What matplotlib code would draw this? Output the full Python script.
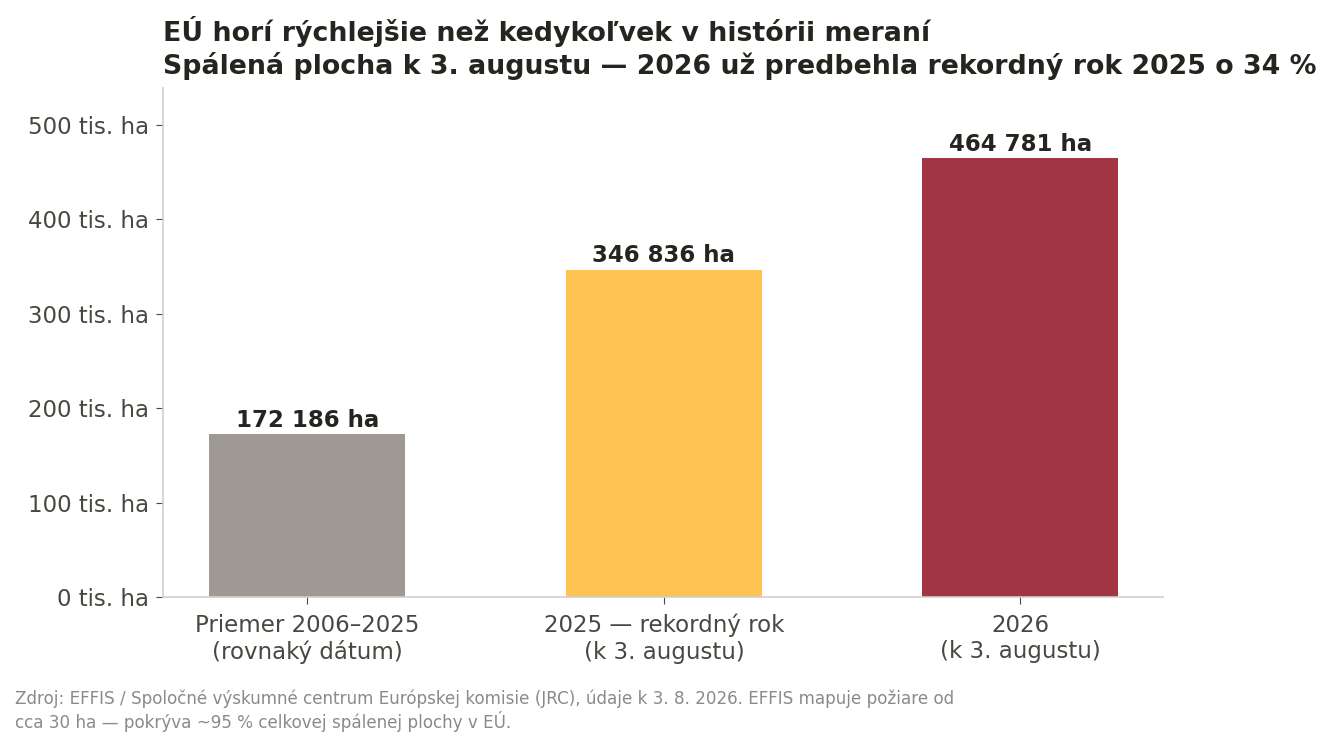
import matplotlib
matplotlib.use('Agg')
import matplotlib.pyplot as plt

plt.rcParams['font.family'] = ['DejaVu Sans']

# údaje
categories = ['Priemer 2006–2025\n(rovnaký dátum)', '2025 — rekordný rok\n(k 3. augustu)', '2026\n(k 3. augustu)']
values = [172186, 346836, 464781]
colors = ['#9e9a93', '#fdc453', '#a13543']
yticks = [0, 100000, 200000, 300000, 400000, 500000]
ytick_labels = ['0 tis. ha', '100 tis. ha', '200 tis. ha', '300 tis. ha', '400 tis. ha', '500 tis. ha']

title = 'EÚ horí rýchlejšie než kedykoľvek v histórii meraní\nSpálená plocha k 3. augustu — 2026 už predbehla rekordný rok 2025 o 34 %'
source = ('Zdroj: EFFIS / Spoločné výskumné centrum Európskej komisie (JRC), údaje k 3. 8. 2026. EFFIS mapuje požiare od\n'
          'cca 30 ha — pokrýva ~95 % celkovej spálenej plochy v EÚ.')

text_dark = '#25241e'
text_mid = '#4a4740'
spine_col = '#d3cfc8'

fig = plt.figure(figsize=(13.3, 7.48), dpi=100)
ax = fig.add_axes([163 / 1330, 1 - 597 / 748, 1000 / 1330, (597 - 88) / 748])

x = range(len(categories))
bars = ax.bar(x, values, width=0.55, color=colors)

for rect, v in zip(bars, values):
    label = f'{v:,} ha'.replace(',', ' ')
    ax.annotate(label, xy=(rect.get_x() + rect.get_width() / 2, v),
                xytext=(0, 1.5), textcoords='offset points',
                ha='center', va='bottom', fontsize=16.5, fontweight='bold', color=text_dark)

ax.set_xlim(-0.405, 2.4)
ax.set_ylim(0, max(values) * 1.16)
ax.set_xticks(list(x))
ax.set_xticklabels(categories, fontsize=16.5, color=text_mid)
ax.set_yticks(yticks)
ax.set_yticklabels(ytick_labels, fontsize=16.5, color=text_mid)
ax.tick_params(axis='both', colors=text_mid, length=5)
ax.tick_params(axis='x', pad=7)
ax.tick_params(axis='y', pad=5)

for s in ['top', 'right']:
    ax.spines[s].set_visible(False)
for s in ['left', 'bottom']:
    ax.spines[s].set_color(spine_col)
    ax.spines[s].set_linewidth(1.2)

fig.text(163 / 1330, 1 - 16 / 748, title, ha='left', va='top',
         fontsize=19.3, fontweight='bold', color=text_dark, linespacing=1.25)
fig.text(15 / 1330, 1 - 690 / 748, source, ha='left', va='top',
         fontsize=12.1, color='#8a8a8a', linespacing=1.15)

fig.savefig('out.png', dpi=100)
